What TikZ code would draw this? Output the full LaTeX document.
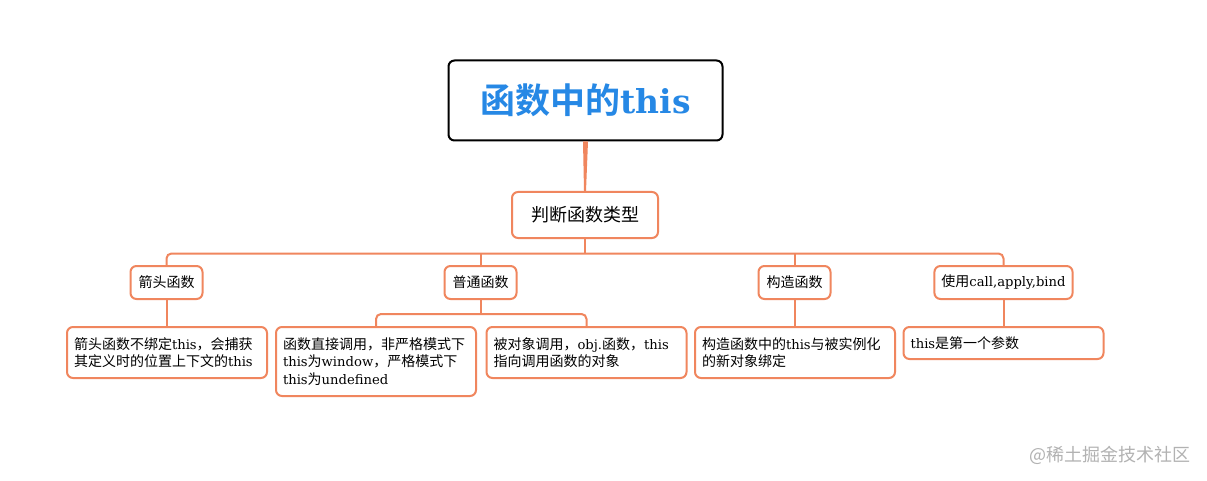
\documentclass[tikz,border=0pt]{standalone}
\usepackage{fontspec}
\setmainfont{DejaVu Serif}[Scale=0.94]
\newfontfamily\cjk{Noto Sans CJK SC}[BoldFont={Noto Sans CJK SC Bold}]
\newcommand{\zh}[1]{{\cjk #1}}
\definecolor{lineorange}{RGB}{240,134,94}
\definecolor{titleblue}{RGB}{38,136,229}
\definecolor{markgray}{RGB}{178,178,178}

\begin{document}
\begin{tikzpicture}[x=1pt, y=-1pt, line width=2pt,
  rootbox/.style={draw=black, fill=white, rounded corners=6pt, minimum width=274pt, minimum height=80pt, text=titleblue, font=\fontsize{35}{40}\selectfont\bfseries},
  typebox/.style={draw=lineorange, fill=white, rounded corners=6pt, minimum width=146pt, minimum height=46pt, font=\fontsize{18}{22}\selectfont},
  kindbox/.style={draw=lineorange, fill=white, rounded corners=6pt, minimum width=72pt, minimum height=33pt, inner xsep=7pt, font=\fontsize{14}{17.5}\selectfont},
  leafbox/.style={draw=lineorange, fill=white, rounded corners=6pt, anchor=north, align=left, text width=186pt, inner xsep=7pt, minimum height=#1, font=\fontsize{14}{17.5}\selectfont},
  leafbox/.default=51pt,
  link/.style={draw=lineorange, rounded corners=5pt}]
  \useasboundingbox[fill=white] (0,0) rectangle (1207,481);

  \node[rootbox] (root) at (585.5,100.5) {\zh{函数中的}this};
  \node[typebox] (judge) at (585,215) {\zh{判断函数类型}};

  \node[kindbox] (arrowkind) at (166.5,282.5) {\zh{箭头函数}};
  \node[kindbox] (normalkind) at (480.5,282.5) {\zh{普通函数}};
  \node[kindbox] (ctorkind) at (794.5,282.5) {\zh{构造函数}};
  \node[kindbox] (callkind) at (1003.5,282.5) {\zh{使用}call,apply,bind};

  \node[leafbox] (arrowleaf) at (167,326) {\zh{箭头函数不绑定}this\zh{，会捕获}\\\zh{其定义时的位置上下文的}this};
  \node[leafbox=69pt] (directleaf) at (376,326) {\zh{函数直接调用，非严格模式下}\\this\zh{为}window\zh{，严格模式下}\\this\zh{为}undefined};
  \node[leafbox] (objleaf) at (586.5,326) {\zh{被对象调用，}obj.\zh{函数，}this\\\zh{指向调用函数的对象}};
  \node[leafbox] (ctorleaf) at (795,326) {\zh{构造函数中的}this\zh{与被实例化}\\\zh{的新对象绑定}};
  \node[leafbox=32pt] (callleaf) at (1003.5,326) {this\zh{是第一个参数}};

  \fill[lineorange] ([xshift=-2.5pt]root.south) -- ([xshift=2.5pt]root.south) -- ([xshift=1pt]judge.north) -- ([xshift=-1pt]judge.north) -- cycle;

  \path (judge.south) ++(0,14.5) coordinate (bus);
  \draw[link] (arrowkind.north) |- (bus) -| (callkind.north);
  \draw[link] (judge.south) -- (bus);
  \draw[link] (normalkind.north) -- (normalkind.north |- bus);
  \draw[link] (ctorkind.north) -- (ctorkind.north |- bus);

  \draw[link] (arrowkind.south) -- (arrowkind.south |- arrowleaf.north);
  \path (normalkind.south) ++(0,14) coordinate (subbus);
  \draw[link] (directleaf.north) |- (subbus) -| (objleaf.north);
  \draw[link] (normalkind.south) -- (subbus);
  \draw[link] (ctorkind.south) -- (ctorkind.south |- ctorleaf.north);
  \draw[link] (callkind.south) -- (callkind.south |- callleaf.north);

  \node[text=markgray, font=\fontsize{18}{22}\selectfont\cjk] (mark) at (1110,455) {@稀土掘金技术社区};
\end{tikzpicture}
\end{document}
